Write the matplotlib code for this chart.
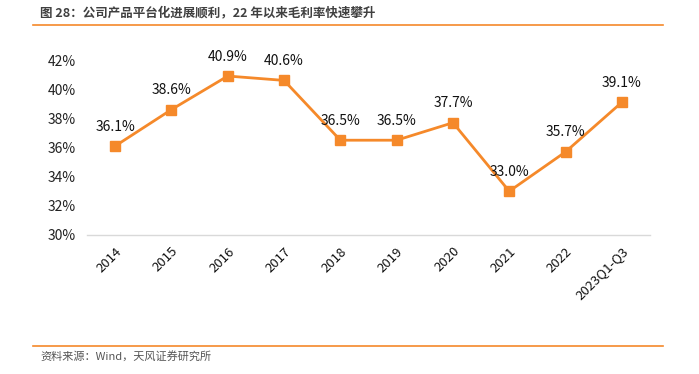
import numpy as np
import matplotlib
matplotlib.use("Agg")
from matplotlib import pyplot as plt
from matplotlib.lines import Line2D

plt.rcParams['font.family'] = ['Noto Sans CJK SC', 'DejaVu Sans']

# Daten
years = ["2014", "2015", "2016", "2017", "2018", "2019", "2020", "2021", "2022", "2023Q1-Q3"]
margin = [36.1, 38.6, 40.9, 40.6, 36.5, 36.5, 37.7, 33.0, 35.7, 39.1]
yticks = [30, 32, 34, 36, 38, 40, 42]

title = "图 28：公司产品平台化进展顺利，22 年以来毛利率快速攀升"
source = "资料来源：Wind，天风证券研究所"

orange = "#F5892A"

fig = plt.figure(figsize=(6.99, 3.74), dpi=100)
ax = fig.add_axes([87 / 699, 1 - 235 / 374, (650 - 87) / 699, (235 - 60) / 374])

x = np.arange(len(years))
ax.plot(x, margin, color=orange, lw=2, marker="s", markersize=7, zorder=3)
for xi, v in zip(x, margin):
    ax.annotate(f"{v:.1f}%", (xi, v), xytext=(0, 9), textcoords="offset points",
                ha="center", va="bottom", fontsize=10, color="#111111")

ax.set_xlim(-0.5, len(years) - 0.5)
ax.set_ylim(30, 42)
ax.set_yticks(yticks)
ax.set_yticklabels([f"{t}%" for t in yticks], fontsize=10, color="#222222")
ax.set_xticks(x)
ax.set_xticklabels(years, rotation=45, ha="right", rotation_mode="anchor", fontsize=9.5, color="#111111")
ax.tick_params(axis="both", length=0, pad=8)
ax.tick_params(axis="x", pad=7)

for s in ["top", "right", "left"]:
    ax.spines[s].set_visible(False)
ax.spines["bottom"].set_color("#D9D9D9")
ax.spines["bottom"].set_linewidth(1)

# Titel und Quelle
fig.text(40 / 699, 1 - 13 / 374, title, fontsize=9, fontweight="bold", color="#404040",
         ha="left", va="center")
fig.add_artist(Line2D([33 / 699, 663 / 699], [1 - 25 / 374, 1 - 25 / 374], color=orange, lw=1.2))
fig.add_artist(Line2D([33 / 699, 663 / 699], [1 - 346 / 374, 1 - 346 / 374], color=orange, lw=1.2))
fig.text(40 / 699, 1 - 356 / 374, source, fontsize=8, color="#555555", ha="left", va="center")

plt.savefig("out.png", dpi=100)
